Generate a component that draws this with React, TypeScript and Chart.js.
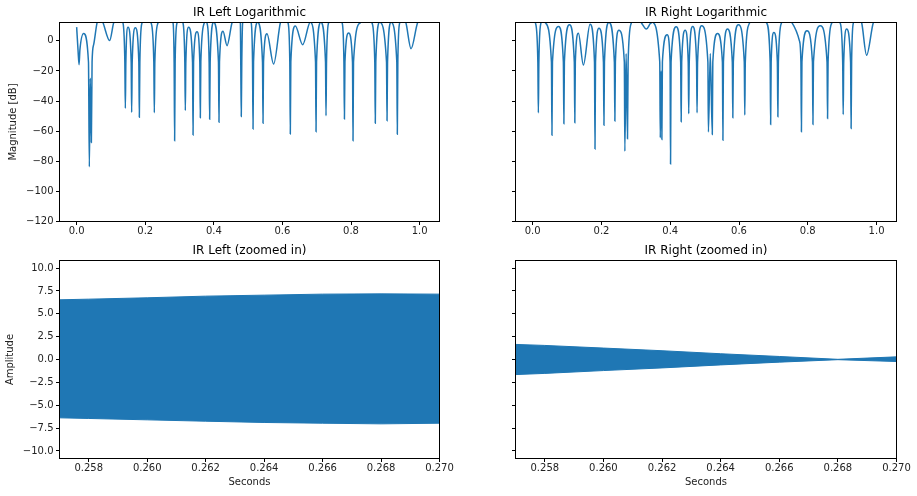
import React, { useEffect, useRef } from 'react';
import { Chart, registerables } from 'chart.js';

Chart.register(...registerables);
Chart.defaults.font.family = "'DejaVu Sans', sans-serif";
Chart.defaults.color = '#000';

const BLUE = '#1f77b4';

// log magnitude: [seconds, dB]
const leftLog: [number, number][] = [
  [0.0, 9.1], [0.004, -6], [0.007, -15.8], [0.0095, -6], [0.0204, 4.9],
  [0.0345, -14], [0.037, -83.7], [0.0397, -24.8], [0.0429, -67.5], [0.045, -14], [0.0496, -2.5],
  [0.0594, 12], [0.068, 17], [0.077, 12], [0.0962, 0.2], [0.108, 12], [0.121, 17], [0.135, 12],
  [0.1405, -14], [0.142, -44.8], [0.1435, -14], [0.1498, 9.1],
  [0.159, -14], [0.1604, -47.5], [0.162, -14], [0.1711, 8.7],
  [0.1813, -14], [0.1828, -50.8], [0.1843, -14], [0.1906, 12], [0.2037, 17], [0.2169, 12],
  [0.225, -14], [0.2265, -47.7], [0.228, -14], [0.2373, 12], [0.259, 18], [0.281, 12],
  [0.2842, -14], [0.2857, -66.4], [0.2872, -14], [0.2927, 12], [0.301, 15], [0.31, 12],
  [0.3154, -14], [0.3169, -46.3], [0.3184, -14], [0.3265, 9.1],
  [0.3379, -14], [0.3394, -62.6], [0.3409, -14], [0.351, 6],
  [0.3591, -14], [0.3606, -51], [0.3621, -14], [0.3723, 12], [0.376, 14], [0.38, 12],
  [0.3863, -14], [0.3878, -52.1], [0.3893, -14], [0.3994, 12.5],
  [0.4135, -14], [0.415, -54.1], [0.4165, -14], [0.4268, 6.4], [0.4385, -3.2],
  [0.453, 12], [0.465, 17], [0.4773, 12], [0.4785, -14], [0.48, -50.3], [0.4815, -14],
  [0.484, 12], [0.4965, 17], [0.509, 12], [0.5128, -14], [0.5143, -58.6], [0.5158, -14], [0.5277, 12.5],
  [0.5419, -14], [0.5434, -54.8], [0.5449, -14], [0.555, 4.7], [0.5743, -15.4],
  [0.594, 12], [0.605, 17], [0.6163, 12], [0.6215, -14], [0.623, -61.9], [0.6245, -14], [0.6376, 9.8],
  [0.659, -2.5], [0.6813, 12.5], [0.6965, -14], [0.698, -60.4], [0.6995, -14], [0.712, 12.5],
  [0.7256, -14], [0.7271, -49.7], [0.7286, -14], [0.7347, 12], [0.754, 18], [0.774, 12],
  [0.7793, -14], [0.7808, -51.9], [0.7823, -14], [0.793, 5.3],
  [0.8043, -14], [0.8058, -66.4], [0.8073, -14], [0.827, 12], [0.844, 18], [0.861, 12],
  [0.8693, -14], [0.8708, -54.8], [0.8723, -14], [0.8834, 12.5],
  [0.9035, -14], [0.905, -53], [0.9065, -14], [0.9166, 12.5],
  [0.9335, -14], [0.935, -62.1], [0.9365, -14], [0.942, 12], [0.951, 15], [0.96, 12],
  [0.975, -5.2], [0.994, 12], [1.0, 14],
];

const rightLog: [number, number][] = [
  [0.0, 16], [0.008, 12], [0.015, -14], [0.0165, -47.8], [0.018, -14], [0.024, 12], [0.03, 15], [0.0367, 12],
  [0.0545, -14], [0.056, -62.7], [0.0575, -14], [0.0752, 9.6],
  [0.0892, -14], [0.0907, -55.1], [0.0922, -14], [0.107, 10.7],
  [0.121, -14], [0.1225, -54.4], [0.124, -14], [0.133, 5.1], [0.1474, -16], [0.1668, 11.1],
  [0.1797, -14], [0.1812, -71.8], [0.1827, -14], [0.1928, 8.4],
  [0.2057, -14], [0.2072, -56], [0.2087, -14], [0.2217, 12.2],
  [0.2375, -14], [0.239, -53.3], [0.2405, -14], [0.2506, 7.1],
  [0.2665, -14], [0.268, -73.3], [0.2717, -8.4], [0.2757, -65.1], [0.2775, -14],
  [0.287, 12], [0.301, 17], [0.316, 12], [0.3306, 7.8], [0.342, 11.5], [0.347, 12.5],
  [0.3695, -14], [0.371, -64.4], [0.3733, -20], [0.3757, -65.6], [0.3772, -14], [0.391, 4],
  [0.3995, -14], [0.4009, -81.8], [0.4024, -14], [0.4173, 9.3],
  [0.4303, -14], [0.4318, -53.8], [0.4333, -14], [0.4434, 7.1],
  [0.4523, -14], [0.4538, -48.4], [0.4553, -14], [0.4653, 9.6],
  [0.4765, -14], [0.478, -47.8], [0.4795, -14], [0.4913, 10],
  [0.5095, -14], [0.511, -60.5], [0.5165, -8.4], [0.5223, -62.2], [0.5238, -14], [0.5376, 4.9],
  [0.5517, -14], [0.5532, -66], [0.5547, -14], [0.5665, 7.8],
  [0.5805, -14], [0.582, -51.1], [0.5835, -14], [0.5983, 10.7],
  [0.6153, -14], [0.6168, -49.3], [0.6183, -14], [0.631, 12], [0.655, 18], [0.68, 12],
  [0.6905, -14], [0.692, -55.5], [0.6935, -14], [0.7014, 5.6],
  [0.7115, -14], [0.713, -50.4], [0.7145, -14], [0.7237, 12], [0.739, 16], [0.7543, 12],
  [0.7757, 0], [0.78, -14], [0.7815, -60.4], [0.783, -14], [0.7977, 6.7],
  [0.8135, -14], [0.815, -55.5], [0.8165, -14], [0.8364, 10],
  [0.856, -14], [0.8575, -51.5], [0.859, -14], [0.87, 12], [0.882, 16], [0.894, 12],
  [0.9015, -14], [0.903, -48.9], [0.9045, -14], [0.913, 7.8],
  [0.9245, -14], [0.926, -58.2], [0.9275, -14], [0.9327, 12], [0.945, 16], [0.9567, 12],
  [0.971, -9.6], [0.9905, 12], [1.0, 15],
];

// zoomed-in waveform: the dense oscillation shows as a band, so keep its envelope
const zoomSeconds = [0.257, 0.258, 0.26, 0.262, 0.264, 0.266, 0.268, 0.27];
const leftUpper = [6.53, 6.6, 6.75, 6.93, 7.04, 7.15, 7.18, 7.15];
const leftLower = [-6.38, -6.45, -6.6, -6.75, -6.89, -6.97, -7.04, -6.97];
const rightUpper = [1.65, 1.54, 1.25, 0.96, 0.63, 0.33, 0.02, 0.29];
const rightLower = [-1.65, -1.52, -1.21, -0.92, -0.59, -0.29, -0.02, -0.22];

const logXTicks = [0, 0.2, 0.4, 0.6, 0.8, 1.0];
const logYTicks = [-120, -100, -80, -60, -40, -20, 0];
const zoomXTicks = [0.258, 0.26, 0.262, 0.264, 0.266, 0.268, 0.27];
const ampYTicks = [-10, -7.5, -5, -2.5, 0, 2.5, 5, 7.5, 10];

const minus = (s: string) => s.replace('-', '\u2212');

const framePlugin = {
  id: 'frame',
  afterDraw(chart: any) {
    const { ctx, chartArea: a } = chart;
    ctx.save();
    ctx.strokeStyle = '#000';
    ctx.lineWidth = 1;
    ctx.strokeRect(a.left, a.top, a.right - a.left, a.bottom - a.top);
    ctx.restore();
  },
};

interface PanelProps {
  left: number;
  top: number;
  width: number;
  height: number;
  title: string;
  titlePad: { top: number; bottom: number };
  datasets: any[];
  xRange: [number, number];
  xTicks: number[];
  xFmt: (v: number) => string;
  yRange: [number, number];
  yTicks: number[];
  yFmt: (v: number) => string;
  yAxisWidth: number;
  xAxisHeight: number;
  padRight: number;
  yTitle?: string;
  yTitlePad?: number;
  xTitle?: string;
  xTitlePad?: number;
}

const Panel: React.FC<PanelProps> = (p) => {
  const canvasRef = useRef<HTMLCanvasElement>(null);

  useEffect(() => {
    if (!canvasRef.current) return;
    const tickGrid = {
      display: true,
      drawOnChartArea: false,
      drawTicks: true,
      tickLength: 3.5,
      color: '#000',
      lineWidth: 1,
    };
    const chart = new Chart(canvasRef.current, {
      type: 'line',
      data: { datasets: p.datasets },
      options: {
        animation: false,
        responsive: false,
        maintainAspectRatio: false,
        layout: { padding: { left: 0, right: p.padRight, top: 0, bottom: 0 } },
        elements: { point: { radius: 0 } },
        plugins: {
          legend: { display: false },
          tooltip: { enabled: false },
          title: {
            display: true,
            fullSize: false, // centre over the axes, like matplotlib
            text: p.title,
            color: '#000',
            font: { size: 12, weight: 'normal' },
            padding: p.titlePad,
          },
        },
        scales: {
          x: {
            type: 'linear',
            min: p.xRange[0],
            max: p.xRange[1],
            afterBuildTicks: (s: any) => { s.ticks = p.xTicks.map((v) => ({ value: v })); },
            afterFit: (s: any) => { s.height = p.xAxisHeight; },
            grid: tickGrid,
            border: { display: false },
            ticks: {
              autoSkip: false,
              maxRotation: 0,
              padding: 0.5,
              color: '#222',
              font: { size: 10 },
              callback: (v: any) => p.xFmt(Number(v)),
            },
            title: {
              display: !!p.xTitle,
              text: p.xTitle || '',
              color: '#222',
              font: { size: 10 },
              padding: { top: 0, bottom: p.xTitlePad || 0 },
            },
          },
          y: {
            type: 'linear',
            min: p.yRange[0],
            max: p.yRange[1],
            afterBuildTicks: (s: any) => { s.ticks = p.yTicks.map((v) => ({ value: v })); },
            afterFit: (s: any) => { s.width = p.yAxisWidth; },
            grid: tickGrid,
            border: { display: false },
            ticks: {
              autoSkip: false,
              padding: 2.5,
              color: '#222',
              font: { size: 10 },
              callback: (v: any) => p.yFmt(Number(v)),
            },
            title: {
              display: !!p.yTitle,
              text: p.yTitle || '',
              color: '#222',
              font: { size: 10 },
              padding: { top: p.yTitlePad || 0, bottom: 0 },
            },
          },
        },
      },
      plugins: [framePlugin],
    } as any);
    return () => chart.destroy();
  }, [p]);

  return (
    <canvas
      ref={canvasRef}
      width={p.width}
      height={p.height}
      style={{ position: 'absolute', left: p.left, top: p.top, width: p.width, height: p.height }}
    />
  );
};

const logLine = (pts: [number, number][]) => ({
  data: pts.map(([x, y]) => ({ x, y })),
  borderColor: BLUE,
  borderWidth: 1.5,
  pointRadius: 0,
  fill: false,
  cubicInterpolationMode: 'monotone',
  clip: 0,
});

const band = (upper: number[], lower: number[]) => [
  {
    data: zoomSeconds.map((x, i) => ({ x, y: upper[i] })),
    borderColor: BLUE,
    backgroundColor: BLUE,
    borderWidth: 1,
    pointRadius: 0,
    fill: '+1',
    clip: 0,
  },
  {
    data: zoomSeconds.map((x, i) => ({ x, y: lower[i] })),
    borderColor: BLUE,
    backgroundColor: BLUE,
    borderWidth: 1,
    pointRadius: 0,
    fill: false,
    clip: 0,
  },
];

const logX = (v: number) => v.toFixed(1);
const logY = (v: number) => minus(String(v));
const zoomX = (v: number) => v.toFixed(3);
const ampY = (v: number) => minus(v.toFixed(1));
const blank = () => '';

const LOG_X: [number, number] = [-0.05, 1.058];
const LOG_Y: [number, number] = [-120, 12.2];
const ZOOM_X: [number, number] = [0.257, 0.27];
const AMP_Y: [number, number] = [-10.83, 10.83];

const panels: PanelProps[] = [
  {
    left: 0, top: 0, width: 459, height: 240,
    title: 'IR Left Logarithmic', titlePad: { top: 5.3, bottom: 2.8 },
    datasets: [logLine(leftLog)],
    xRange: LOG_X, xTicks: logXTicks, xFmt: logX,
    yRange: LOG_Y, yTicks: logYTicks, yFmt: logY,
    yAxisWidth: 59.5, xAxisHeight: 18.5, padRight: 19.5,
    yTitle: 'Magnitude [dB]', yTitlePad: 7.3,
  },
  {
    left: 459, top: 0, width: 458, height: 240,
    title: 'IR Right Logarithmic', titlePad: { top: 5.3, bottom: 2.8 },
    datasets: [logLine(rightLog)],
    xRange: LOG_X, xTicks: logXTicks, xFmt: logX,
    yRange: LOG_Y, yTicks: logYTicks, yFmt: blank,
    yAxisWidth: 56.5, xAxisHeight: 18.5, padRight: 20.5,
  },
  {
    left: 0, top: 236, width: 459, height: 260,
    title: 'IR Left (zoomed in)', titlePad: { top: 7.3, bottom: 2.8 },
    datasets: band(leftUpper, leftLower),
    xRange: ZOOM_X, xTicks: zoomXTicks, xFmt: zoomX,
    yRange: AMP_Y, yTicks: ampYTicks, yFmt: ampY,
    yAxisWidth: 59.5, xAxisHeight: 37.5, padRight: 19.5,
    yTitle: 'Amplitude', yTitlePad: 4.7,
    xTitle: 'Seconds', xTitlePad: 7.3,
  },
  {
    left: 459, top: 236, width: 458, height: 260,
    title: 'IR Right (zoomed in)', titlePad: { top: 7.3, bottom: 2.8 },
    datasets: band(rightUpper, rightLower),
    xRange: ZOOM_X, xTicks: zoomXTicks, xFmt: zoomX,
    yRange: AMP_Y, yTicks: ampYTicks, yFmt: blank,
    yAxisWidth: 56.5, xAxisHeight: 37.5, padRight: 20.5,
    xTitle: 'Seconds', xTitlePad: 7.3,
  },
];

export default function App() {
  return (
    <div
      style={{
        position: 'absolute',
        left: 0,
        top: 0,
        width: 917,
        height: 496,
        background: '#fff',
        overflow: 'hidden',
      }}
    >
      {panels.map((p) => (
        <Panel key={p.title} {...p} />
      ))}
    </div>
  );
}
